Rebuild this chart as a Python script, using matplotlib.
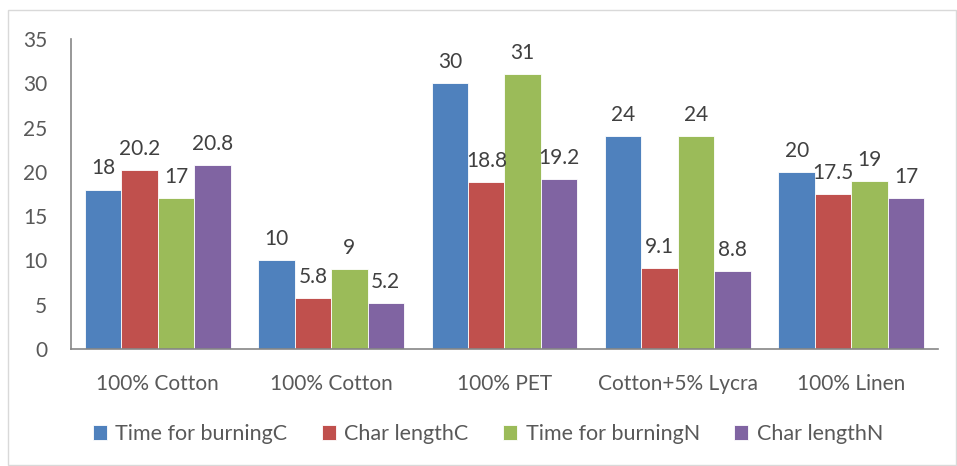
import matplotlib.pyplot as plt
import numpy as np
from matplotlib.patches import Rectangle

categories = ["100% Cotton", "100% Cotton", "100% PET", "Cotton+5% Lycra", "100% Linen"]
series_names = ["Time for burningC", "Char lengthC", "Time for burningN", "Char lengthN"]
time_c = [18, 10, 30, 24, 20]
char_c = [20.2, 5.8, 18.8, 9.1, 17.5]
time_n = [17, 9, 31, 24, 19]
char_n = [20.8, 5.2, 19.2, 8.8, 17]
colors = ["#4F81BD", "#C0504D", "#9BBB59", "#8064A2"]

plt.rcParams['font.family'] = ['Lato', 'DejaVu Sans']
txt = "#595959"

fig = plt.figure(figsize=(9.57, 4.66), dpi=100)
ax = fig.add_axes([71 / 957, 1 - 349 / 466, (938 - 71) / 957, (349 - 39) / 466])

x = np.arange(len(categories))
w = 0.21
for i, (vals, name) in enumerate(zip([time_c, char_c, time_n, char_n], series_names)):
    bars = ax.bar(x + (i - 1.5) * w, vals, w, color=colors[i], label=name,
                  edgecolor="white", linewidth=0.6)
    ax.bar_label(bars, labels=[f"{v:g}" for v in vals], padding=8,
                 fontsize=15, color="#404040")

ax.set_xlim(-0.5, len(categories) - 0.5)
ax.set_ylim(0, 35)
ax.set_yticks(range(0, 36, 5))
ax.set_xticks(x)
ax.set_xticklabels(categories)
ax.tick_params(axis="both", length=0, labelsize=15, labelcolor=txt)
ax.tick_params(axis="y", pad=17)
ax.tick_params(axis="x", pad=18)
for s in ["top", "right"]:
    ax.spines[s].set_visible(False)
for s in ["left", "bottom"]:
    ax.spines[s].set_color("#868686")
    ax.spines[s].set_linewidth(1.2)

ax.legend(loc="center", bbox_to_anchor=(0.51, 1 - 434 / 466), bbox_transform=fig.transFigure,
          ncol=4, frameon=False, fontsize=15.5, labelcolor=txt, handlelength=0.65,
          handleheight=0.65, handletextpad=0.4, columnspacing=1.6)

fig.patches.append(Rectangle((8 / 957, 1 / 466), 948 / 957, 455 / 466, transform=fig.transFigure,
                             fill=False, edgecolor="#D9D9D9", linewidth=1))

fig.savefig("out.png", dpi=100)
